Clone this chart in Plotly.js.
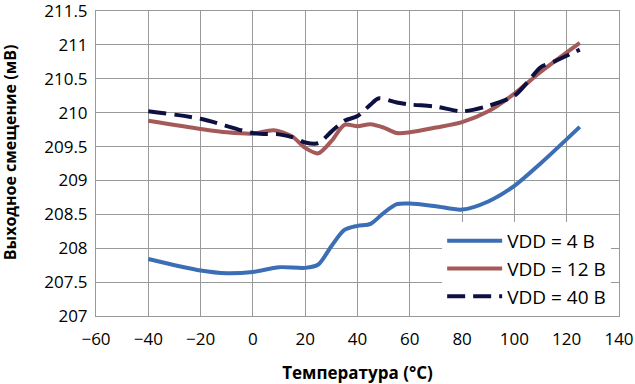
<!DOCTYPE html>
<html><head><meta charset="utf-8">
<script src="https://cdn.plot.ly/plotly-3.0.1.min.js"></script>
<style>html,body{margin:0;padding:0;background:#fff}#chart{width:635px;height:384px}</style>
</head><body><div id="chart"></div>
<script>
const names = ["VDD = 4 В", "VDD = 12 В", "VDD = 40 В"];
const xTicks = [-60, -40, -20, 0, 20, 40, 60, 80, 100, 120, 140];
const yTicks = [207, 207.5, 208, 208.5, 209, 209.5, 210, 210.5, 211, 211.5];

const x4 = [-40, -20, -10, 0, 10, 20, 25, 30, 35, 40, 45, 50, 55, 60, 70, 80, 90, 100, 110, 125];
const y4 = [207.84, 207.67, 207.63, 207.65, 207.72, 207.71, 207.76, 208.03, 208.27, 208.33, 208.36, 208.52, 208.65, 208.66, 208.62, 208.57, 208.69, 208.92, 209.25, 209.79];

const x12 = [-40, -20, -10, 0, 8, 15, 20, 25, 30, 35, 40, 45, 50, 55, 60, 70, 80, 90, 100, 110, 125];
const y12 = [209.88, 209.76, 209.71, 209.69, 209.74, 209.65, 209.48, 209.40, 209.58, 209.82, 209.80, 209.83, 209.78, 209.70, 209.71, 209.78, 209.86, 210.02, 210.28, 210.60, 211.03];

const x40 = [-40, -20, 0, 10, 15, 20, 25, 30, 35, 40, 45, 48, 55, 60, 70, 80, 90, 100, 105, 110, 115, 125];
const y40 = [210.02, 209.91, 209.70, 209.68, 209.64, 209.56, 209.55, 209.72, 209.88, 209.95, 210.12, 210.21, 210.15, 210.12, 210.09, 210.02, 210.10, 210.25, 210.45, 210.67, 210.75, 210.93];

const font = "Open Sans, Noto Sans, sans-serif";
const traces = [
  {x: x4, y: y4, name: names[0], legendgroup: "a", mode: "lines", line: {color: "#3b6eb4", width: 4, shape: "spline", smoothing: 0.8}},
  {x: x12, y: y12, name: names[1], legendgroup: "b", mode: "lines", line: {color: "#a55a5a", width: 4, shape: "spline", smoothing: 0.8}},
  {x: x40, y: y40, name: names[2], legendgroup: "c", mode: "lines", line: {color: "#0d1040", width: 4, dash: "18px,8px", shape: "spline", smoothing: 0.8}}
];
const layout = {
  width: 635, height: 384,
  margin: {l: 96, r: 16, t: 11, b: 68},
  paper_bgcolor: "#fff", plot_bgcolor: "#fff",
  font: {family: font, color: "#000", size: 17},
  showlegend: true,
  legend: {x: 0.985, y: 0, xanchor: "right", yanchor: "bottom", bgcolor: "#fff", borderwidth: 0,
           font: {family: font, size: 19, color: "#000"}, tracegroupgap: 9, traceorder: "normal", itemwidth: 55},
  xaxis: {range: [-60, 140], tickvals: xTicks, showgrid: true, gridcolor: "#999", gridwidth: 1,
          showline: true, linecolor: "#999", mirror: true, zeroline: false, ticks: "", ticklabelstandoff: 8,
          tickfont: {size: 17, family: font},
          title: {text: "<b>Температура (°C)</b>", font: {size: 17, family: font}, standoff: 18}},
  yaxis: {range: [207, 211.5], tickvals: yTicks, showgrid: true, gridcolor: "#999", gridwidth: 1,
          showline: true, linecolor: "#999", mirror: true, zeroline: false, ticks: "", ticklabelstandoff: 4,
          ticklabeloverflow: "allow", tickfont: {size: 17, family: font}},
  annotations: [{text: "<b>Выходное смещение (мВ)</b>", xref: "paper", yref: "paper", x: -0.1644, y: 0.534,
                 xanchor: "center", yanchor: "middle", textangle: -90, showarrow: false,
                 font: {size: 16, family: font, color: "#000"}}]
};
Plotly.newPlot("chart", traces, layout, {staticPlot: true, displayModeBar: false});
</script></body></html>
